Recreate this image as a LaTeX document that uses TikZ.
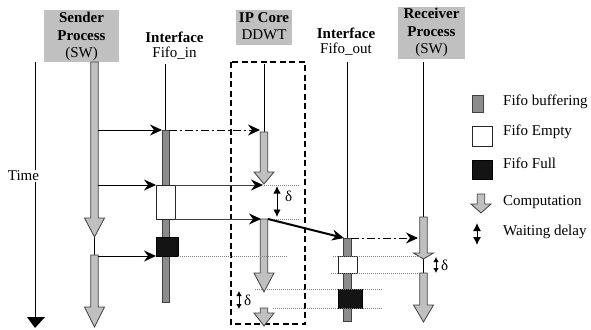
\documentclass[tikz,border=0pt]{standalone}
\usepackage{fontspec}
\setmainfont{Liberation Serif}
\usetikzlibrary{arrows.meta}
\definecolor{hdr}{HTML}{C0C0C0}
\definecolor{compc}{HTML}{C0C0C0}
\definecolor{fifoc}{HTML}{8C8C8C}
\newcommand\comparr[5]{%
  \draw[comp] (#2-3.7,#3) -- (#2+3.7,#3) -- (#2+3.7,#4) -- (#2+10,#4) -- (#2,#5) -- (#2-10,#4) -- (#2-3.7,#4) -- cycle;
  \coordinate (#1) at (#2,#3);}
\tikzset{
  hdrbox/.style={fill=hdr, draw=none, inner sep=0pt},
  comp/.style={fill=compc, draw=black!75, line width=0.8pt, line join=miter},
  fifobar/.style={fill=fifoc, draw=black!75, line width=0.8pt},
  emptybox/.style={fill=white, draw=black!85, line width=0.9pt},
  fullbox/.style={fill=black!92, draw=black, line width=0.6pt},
  life/.style={line width=0.9pt},
  msg/.style={line width=0.9pt, -{Stealth[length=12pt,width=11pt,inset=4pt]}},
  gmsg/.style={line width=0.8pt, black!75, -{Stealth[length=12pt,width=11pt,inset=4pt,color=black]}},
  dmsg/.style={line width=0.9pt, dash pattern=on 8pt off 3pt on 2pt off 3pt, -{Stealth[length=12pt,width=11pt,inset=4pt]}},
  thickmsg/.style={line width=2pt, -{Stealth[length=12pt,width=11pt,inset=4pt]}},
  dots/.style={gray, line width=0.8pt, dash pattern=on 1pt off 1pt},
  delta/.style={line width=0.9pt, {Latex[length=5pt,width=5.5pt]}-{Latex[length=5pt,width=5.5pt]}},
  middelta/.style={line width=0.9pt, {Latex[length=7.5pt,width=7.5pt]}-{Latex[length=7.5pt,width=7.5pt]}},
  bigdelta/.style={line width=1pt, {Latex[length=8pt,width=8pt]}-{Latex[length=8pt,width=8pt]}},
  lbl/.style={font=\fontsize{15}{18}\selectfont, inner sep=0pt},
  blbl/.style={font=\fontsize{15}{18}\selectfont\bfseries, inner sep=0pt},
  ipbox/.style={draw, line width=1.8pt, dash pattern=on 6pt off 3.5pt},
}
\begin{document}
\begin{tikzpicture}[x=1pt,y=-1pt]
\useasboundingbox (0,0) rectangle (591,329);

% ---- headers
\fill[hdr] (44,10) rectangle (119,62);
\node[blbl, anchor=base] (sndA) at (81.5,23) {Sender};
\node[blbl, anchor=base] (sndB) at (81.5,41) {Process};
\node[lbl, anchor=base] (sndC) at (81.5,58) {(SW)};

\node[blbl, anchor=base] (finA) at (174.5,42) {Interface};
\node[lbl, anchor=base] (finB) at (174.5,57) {Fifo\_in};

\fill[hdr] (236,10) rectangle (292,45);
\node[blbl, anchor=base] (ipA) at (264,23) {IP Core};
\node[lbl, anchor=base] (ipB) at (264,40) {DDWT};

\node[blbl, anchor=base] (foutA) at (346,38) {Interface};
\node[lbl, anchor=base] (foutB) at (346,53) {Fifo\_out};

\fill[hdr] (398,7) rectangle (465,59);
\node[blbl, anchor=base] (rcvA) at (431.5,19) {Receiver};
\node[blbl, anchor=base] (rcvB) at (431.5,37) {Process};
\node[lbl, anchor=base] (rcvC) at (431.5,54) {(SW)};

% ---- IP core dashed box
\draw[ipbox] (231,62) rectangle (305,324);

% ---- time axis
\coordinate (t0) at (35,62);
\coordinate (t1) at (35,317);
\draw[life] (t0) -- (t1);
\fill (27,317) -- (45,317) -- (35,328) -- cycle;
\node[lbl, fill=white, inner sep=1pt] (time) at (23.5,176) {Time};

% ---- lifelines
\draw[life] (165.5,64) -- (165.5,130);
\draw[life] (264,64) -- (264,132);
\draw[life] (347,62) -- (347,238);
\draw[life] (423.5,62) -- (423.5,217);
\draw[life] (94.5,237) -- (94.5,255);
\draw[life] (423.5,259) -- (423.5,273);

% ---- sender computations
\comparr{s1}{94.5}{62}{218}{237}
\comparr{s2}{94.5}{255}{307}{327}

% ---- Fifo_in
\draw[fifobar] (162,130) rectangle (169,302);
\draw[emptybox] (156,185) rectangle (175,219);
\draw[fullbox] (156,237) rectangle (178,256);

% ---- IP core computations
\comparr{c1}{264}{132}{172}{184}
\comparr{c2}{264}{219}{273}{292}
\comparr{c3}{264}{308}{313}{326}

% ---- Fifo_out
\draw[fifobar] (343,238) rectangle (351,321);
\draw[emptybox] (338,256) rectangle (357,273);
\draw[fullbox] (338,289) rectangle (362,308);

% ---- receiver computations
\comparr{r1}{423.5}{217}{253}{259}
\comparr{r2}{423.5}{273}{305}{322}

% ---- dotted guide lines
\draw[dots] (264,185) -- (300,185);
\draw[dots] (270,219) -- (300,219);
\draw[dots] (178,256) -- (287,256);
\draw[dots] (255,289) -- (383,289);
\draw[dots] (273,308) -- (383,308);
\draw[dots] (333,256) -- (420,256);
\draw[dots] (331,273) -- (420,273);

% ---- messages
\coordinate (m1a) at (98,130);   \coordinate (m1b) at (162,130);
\coordinate (m2a) at (169,130);  \coordinate (m2b) at (260,132);
\coordinate (m3a) at (98,185);   \coordinate (m3b) at (156,185);
\coordinate (m4a) at (175,185);  \coordinate (m4b) at (263,185);
\coordinate (m5a) at (98,256);   \coordinate (m5b) at (156,256);
\coordinate (m6a) at (175,219);  \coordinate (m6b) at (261,219);
\coordinate (m7a) at (268,219);  \coordinate (m7b) at (344,238);
\coordinate (m8a) at (351,238);  \coordinate (m8b) at (418,238);
\draw[msg] (m1a) -- (m1b);
\draw[dmsg] (m2a) -- (m2a -| m2b);
\draw[msg] (m3a) -- (m3b);
\draw[gmsg] (m4a) -- (m4b);
\draw[msg] (m5a) -- (m5b);
\draw[gmsg] (m6a) -- (m6b);
\draw[thickmsg] (m7a) -- (m7b);
\draw[dmsg] (m8a) -- (m8b);

% ---- waiting delays
\draw[middelta] (277,186) -- (277,217);
\node[lbl, anchor=west] (d1) at (285,196) {δ};
\draw[delta] (239,291) -- (239,309);
\node[lbl, anchor=west] (d2) at (244,300) {δ};
\draw[delta] (436,257) -- (436,273);
\node[lbl, anchor=west] (d3) at (441,265) {δ};

% ---- legend
\draw[fifobar] (472,95) rectangle (483,112);
\node[lbl, anchor=base west] (lg1) at (503,105) {Fifo buffering};
\draw[emptybox] (472,126) rectangle (492,146);
\node[lbl, anchor=base west] (lg2) at (503,135) {Fifo Empty};
\draw[fullbox] (472,160) rectangle (492,179);
\node[lbl, anchor=base west] (lg3) at (503,168) {Fifo Full};
\comparr{lgc}{481}{194}{204}{213}
\node[lbl, anchor=base west] (lg4) at (503,205) {Computation};
\draw[bigdelta] (477,223) -- (477,245);
\node[lbl, anchor=base west] (lg5) at (503,235) {Waiting delay};
\end{tikzpicture}
\end{document}
